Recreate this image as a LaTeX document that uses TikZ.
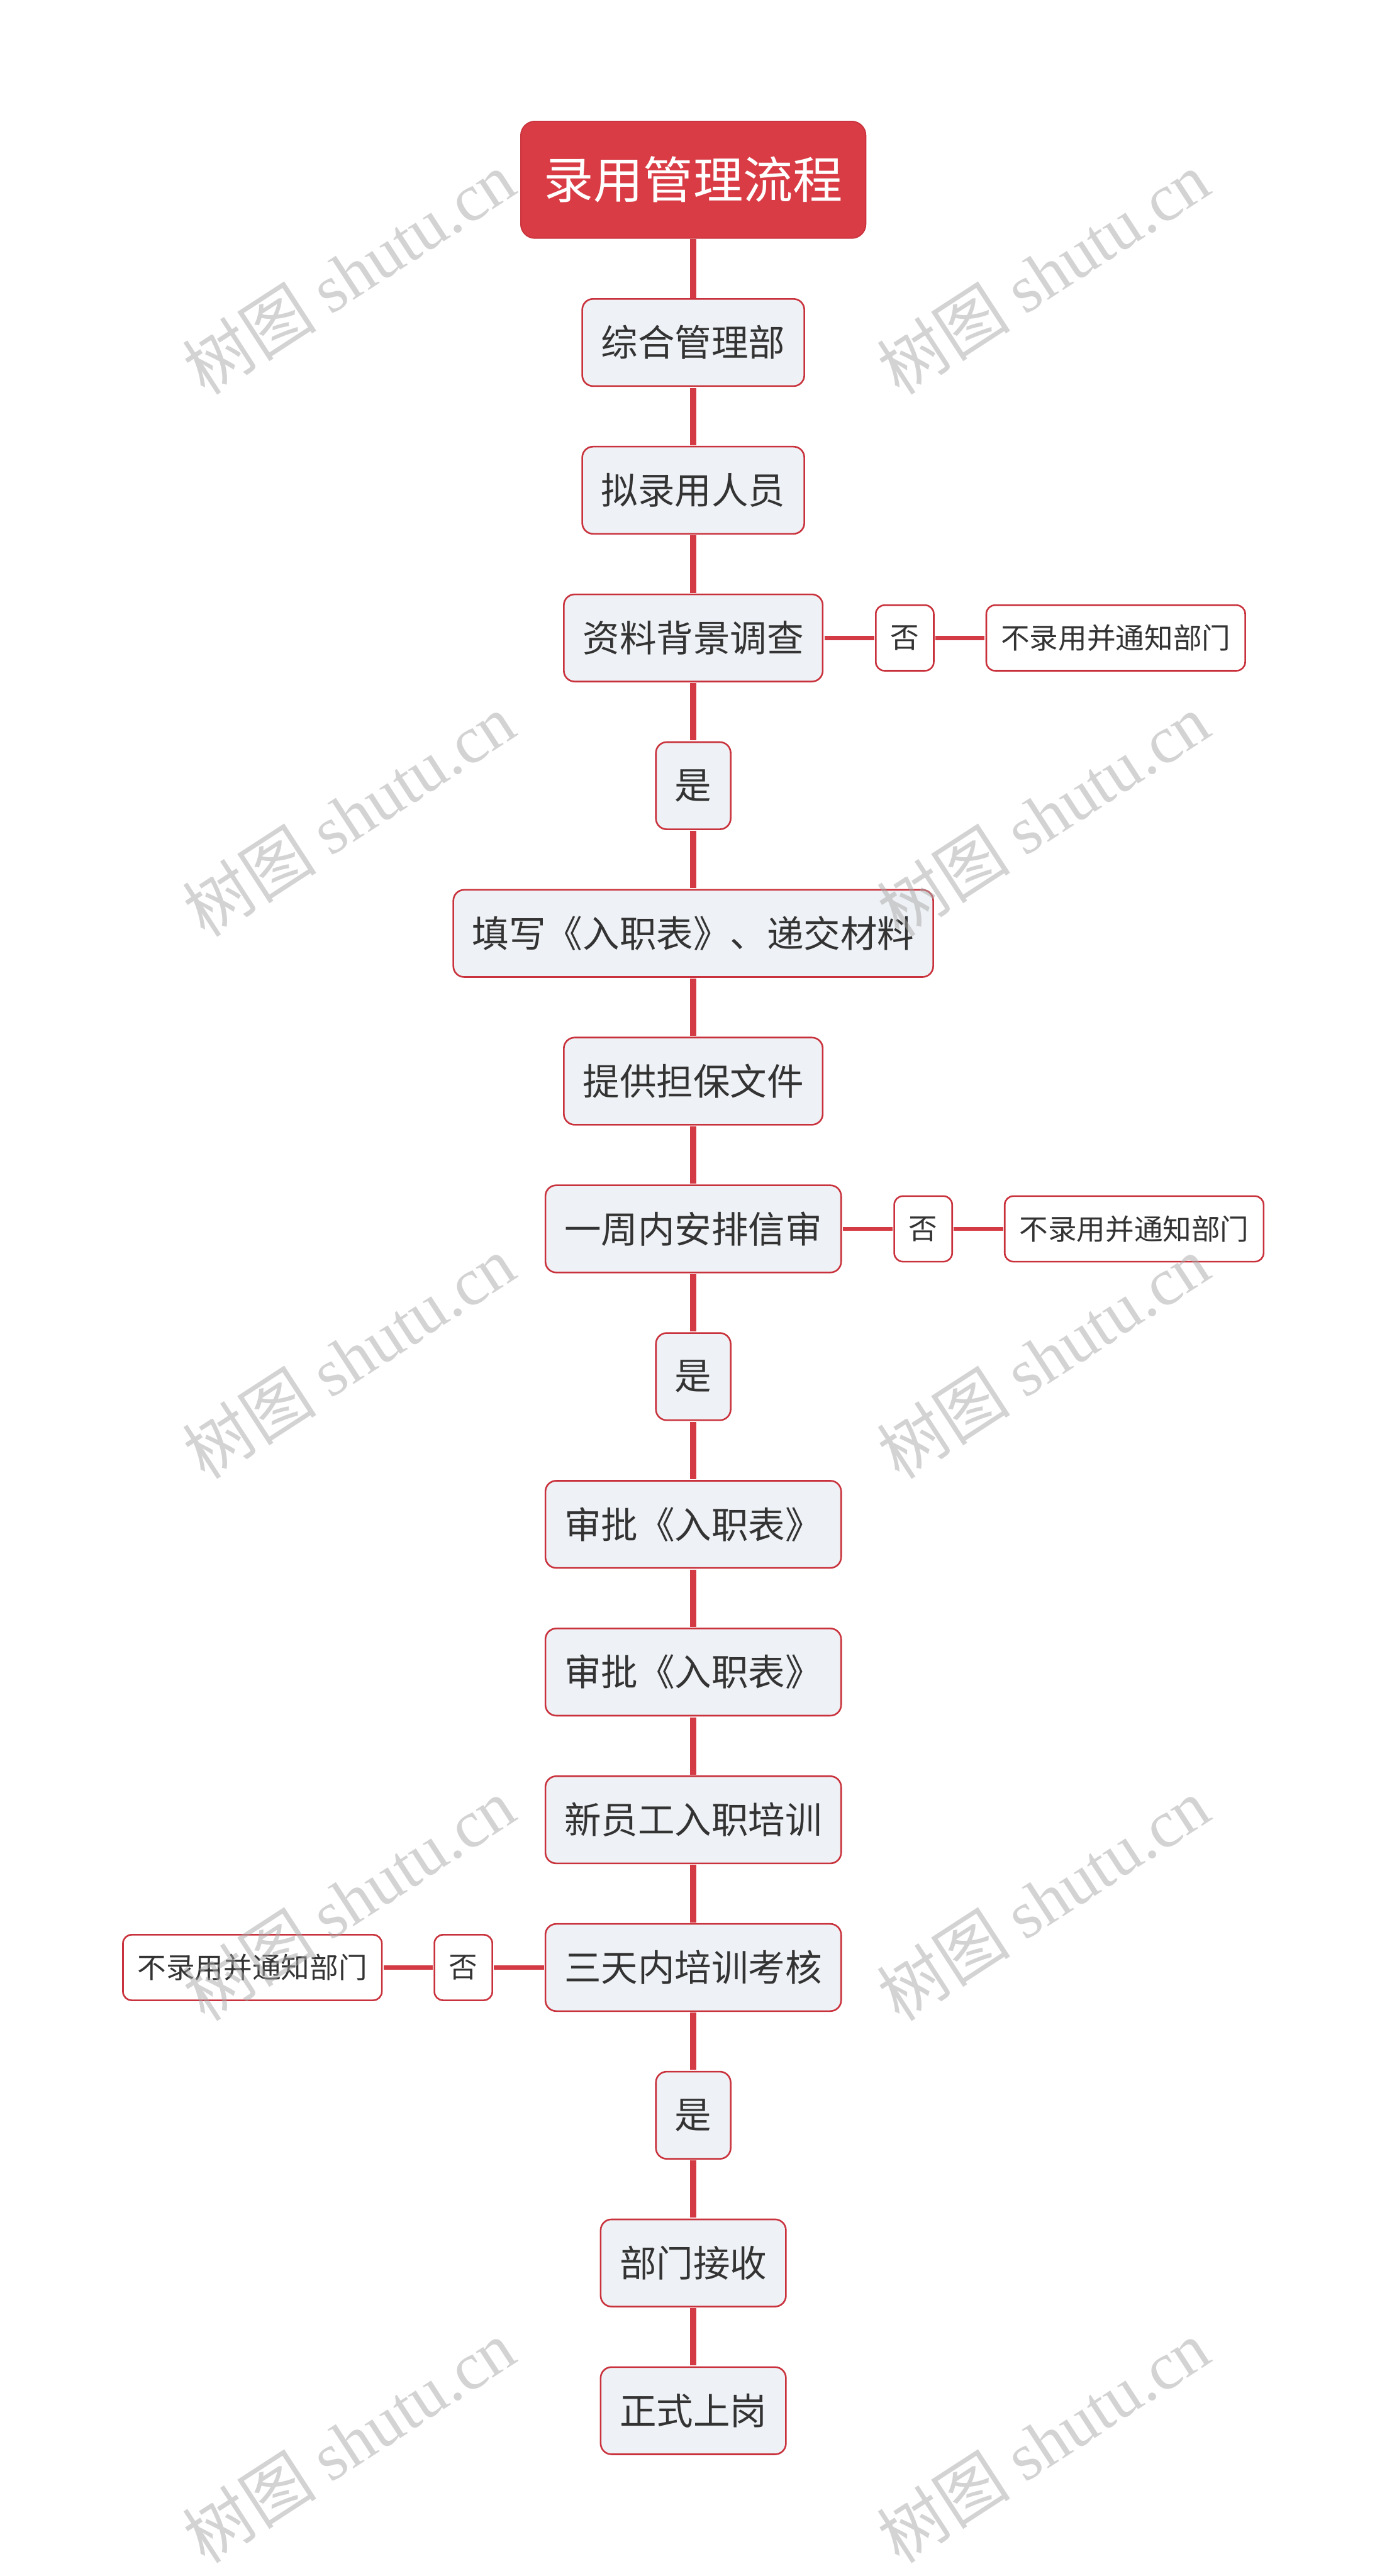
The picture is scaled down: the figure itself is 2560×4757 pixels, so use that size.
\documentclass[tikz,border=0pt]{standalone}
\usepackage{fontspec}
\setmainfont{Noto Sans CJK SC}
\newfontfamily\wmlat{Liberation Serif}
\newfontfamily\wmcjk{Noto Sans CJK SC}
\definecolor{titlered}{HTML}{D93C45}
\definecolor{linered}{HTML}{D43A44}
\definecolor{boxred}{HTML}{C9323C}
\definecolor{boxfill}{HTML}{EEF1F5}
\definecolor{txt}{HTML}{333333}
\definecolor{wm}{HTML}{A8A8A8}
\tikzset{
  titlebox/.style={fill=titlered, draw=boxred, line width=1pt, rounded corners=13pt,
    text=white, font=\fontsize{46pt}{52pt}\selectfont, minimum width=318.5pt,
    minimum height=108pt, inner sep=0pt},
  mainbox/.style={draw=boxred, line width=1.5pt, fill=boxfill, rounded corners=10pt,
    text=txt, font=\fontsize{34pt}{40pt}\selectfont, inner xsep=17.5pt,
    inner ysep=0pt, minimum height=80.5pt},
  sidebox/.style={draw=boxred, line width=1.5pt, fill=white, rounded corners=8pt,
    text=txt, font=\fontsize{26.5pt}{30pt}\selectfont, inner xsep=13.5pt,
    inner ysep=0pt, minimum height=60.5pt},
  mainlink/.style={draw=linered, line width=6pt},
  sidelink/.style={draw=linered, line width=4pt},
  wmark/.style={text=wm, opacity=0.5, rotate=33, font=\fontsize{62pt}{70pt}\selectfont, inner sep=0pt}
}
\begin{document}
\begin{tikzpicture}[x=0.5pt,y=-0.5pt]
\useasboundingbox (0,0) rectangle (2560,4757);
% connectors first (behind nodes)
\begin{scope}[every node/.style={}]
\end{scope}
\node[titlebox] (t) at (1280,332) {录用管理流程};
\node[mainbox] (n0) at (1280,632.5) {综合管理部};
\node[mainbox] (n1) at (1280,905.3) {拟录用人员};
\node[mainbox] (n2) at (1280,1178.1) {资料背景调查};
\node[mainbox] (n3) at (1280,1450.9) {是};
\node[mainbox] (n4) at (1280,1723.7) {填写《入职表》、递交材料};
\node[mainbox] (n5) at (1280,1996.5) {提供担保文件};
\node[mainbox] (n6) at (1280,2269.3) {一周内安排信审};
\node[mainbox] (n7) at (1280,2542.1) {是};
\node[mainbox] (n8) at (1280,2814.9) {审批《入职表》};
\node[mainbox] (n9) at (1280,3087.7) {审批《入职表》};
\node[mainbox] (n10) at (1280,3360.5) {新员工入职培训};
\node[mainbox] (n11) at (1280,3633.3) {三天内培训考核};
\node[mainbox] (n12) at (1280,3906.1) {是};
\node[mainbox] (n13) at (1280,4178.9) {部门接收};
\node[mainbox] (n14) at (1280,4451.7) {正式上岗};
\node[sidebox] (r2a) at (1670.5,1178.1) {否};
\node[sidebox] (r2b) at (2060,1178.1) {不录用并通知部门};
\node[sidebox] (r6a) at (1704.5,2269.3) {否};
\node[sidebox] (r6b) at (2094,2269.3) {不录用并通知部门};
\node[sidebox] (r11a) at (855.5,3633.3) {否};
\node[sidebox] (r11b) at (466,3633.3) {不录用并通知部门};
% links
\path[mainlink] (t.south) -- (n0.north);
\foreach \a/\b in {n0/n1,n1/n2,n2/n3,n3/n4,n4/n5,n5/n6,n6/n7,n7/n8,n8/n9,n9/n10,n10/n11,n11/n12,n12/n13,n13/n14}
  \path[mainlink] ([yshift=-0.75pt]\a.south) -- ([yshift=0.75pt]\b.north);
\path[sidelink] ([xshift=0.75pt]n2.east) -- ([xshift=-0.75pt]r2a.west);
\path[sidelink] ([xshift=0.75pt]r2a.east) -- ([xshift=-0.75pt]r2b.west);
\path[sidelink] ([xshift=0.75pt]n6.east) -- ([xshift=-0.75pt]r6a.west);
\path[sidelink] ([xshift=0.75pt]r6a.east) -- ([xshift=-0.75pt]r6b.west);
\path[sidelink] ([xshift=-0.75pt]n11.west) -- ([xshift=0.75pt]r11a.east);
\path[sidelink] ([xshift=-0.75pt]r11a.west) -- ([xshift=0.75pt]r11b.east);
% watermarks
\foreach \yy [count=\i] in {504,1505,2506,3507,4508} {
  \node[wmark] (wl\i) at (644,\yy) {\wmcjk 树图\ \wmlat shutu.cn};
  \node[wmark] (wr\i) at (1926,\yy) {\wmcjk 树图\ \wmlat shutu.cn};
}
\end{tikzpicture}
\end{document}
